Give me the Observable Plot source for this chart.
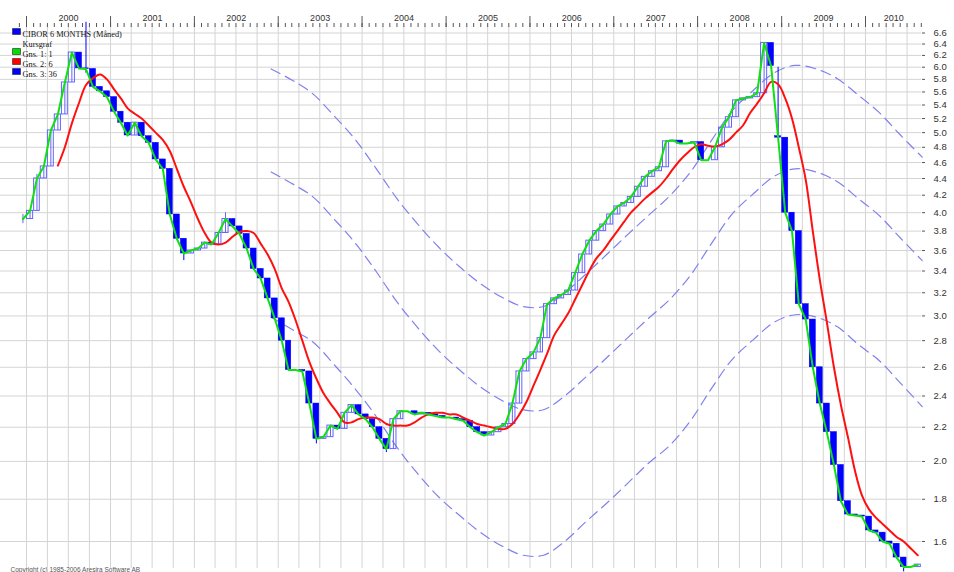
<!DOCTYPE html>
<html><head><meta charset="utf-8">
<script src="https://cdn.jsdelivr.net/npm/d3@7"></script>
<script src="https://cdn.jsdelivr.net/npm/@observablehq/plot@0.6"></script>
<style>body{margin:0;background:#fff;} #chart svg{display:block;}</style>
</head><body><div id="chart"></div>
<script>
// ---- data ----
const firstMonth = "1999-12-01";
const closeValues = [3.93,
  4.02, 4.40, 4.55, 5.03, 5.26, 5.75, 6.25, 5.98, 5.97, 5.68, 5.61, 5.52,
  5.30, 5.14, 4.96, 5.14, 4.95, 4.86, 4.64, 4.52, 3.98, 3.72, 3.57, 3.60,
  3.62, 3.68, 3.66, 3.78, 3.93, 3.85, 3.77, 3.62, 3.42, 3.33, 3.15, 2.98,
  2.80, 2.58, 2.58, 2.57, 2.35, 2.13, 2.14, 2.21, 2.19, 2.29, 2.34, 2.28,
  2.25, 2.20, 2.13, 2.07, 2.25, 2.30, 2.30, 2.28, 2.29, 2.28, 2.27, 2.26,
  2.26, 2.25, 2.24, 2.20, 2.17, 2.15, 2.17, 2.20, 2.22, 2.35, 2.57, 2.66,
  2.71, 2.82, 3.10, 3.15, 3.18, 3.22, 3.38, 3.56, 3.70, 3.80, 3.87, 3.98,
  4.07, 4.11, 4.18, 4.30, 4.42, 4.49, 4.54, 4.88, 4.89, 4.85, 4.85, 4.87,
  4.63, 4.63, 4.80, 5.07, 5.22, 5.47, 5.50, 5.52, 5.58, 6.42, 6.02, 4.93,
  4.00, 3.80, 3.10, 2.97, 2.60, 2.35, 2.17, 1.98, 1.79, 1.725, 1.72, 1.715,
  1.65, 1.64, 1.60, 1.59, 1.53, 1.49, 1.49, 1.50];
const openValues = [3.93,
  3.93, 4.02, 4.40, 4.55, 5.03, 5.26, 5.75, 6.25, 5.98, 5.97, 5.68, 5.61,
  5.52, 5.30, 5.14, 4.96, 5.14, 4.95, 4.86, 4.64, 4.52, 3.98, 3.72, 3.57,
  3.60, 3.62, 3.68, 3.66, 3.78, 3.93, 3.85, 3.77, 3.62, 3.42, 3.33, 3.15,
  2.98, 2.80, 2.58, 2.58, 2.57, 2.35, 2.13, 2.14, 2.21, 2.19, 2.29, 2.34,
  2.28, 2.25, 2.20, 2.13, 2.07, 2.25, 2.30, 2.30, 2.28, 2.29, 2.28, 2.27,
  2.26, 2.26, 2.25, 2.24, 2.20, 2.17, 2.15, 2.17, 2.20, 2.22, 2.35, 2.57,
  2.66, 2.71, 2.82, 3.10, 3.15, 3.18, 3.22, 3.38, 3.56, 3.70, 3.80, 3.87,
  3.98, 4.07, 4.11, 4.18, 4.30, 4.42, 4.49, 4.54, 4.88, 4.89, 4.85, 4.85,
  4.87, 4.63, 4.63, 4.80, 5.07, 5.22, 5.47, 5.50, 5.52, 5.58, 6.42, 4.95,
  4.93, 4.00, 3.80, 3.10, 2.97, 2.60, 2.35, 2.17, 1.98, 1.79, 1.725, 1.72,
  1.715, 1.65, 1.64, 1.60, 1.59, 1.53, 1.49, 1.49];
const wickMonths = ["1999-12-01","2000-02-01","2000-09-01","2001-11-01","2002-05-01","2003-06-01","2004-04-01","2008-12-01","2010-06-01"];
const wickLow  = [3.88, null, 5.90, 3.50, null, 2.10, 2.05, null, 1.47];
const wickHigh = [3.98, 4.45, 6.80, null, 4.00, null, null, 6.00, null];

const maStart = "2000-05-01";
const ma6Values = [4.56, 4.80, 5.13, 5.43, 5.71, 5.82, 5.88, 5.80,
  5.64, 5.50, 5.35, 5.27, 5.20, 5.10, 5.00, 4.90, 4.75, 4.52, 4.30, 4.12,
  3.93, 3.78, 3.68, 3.66, 3.68, 3.74, 3.79, 3.80, 3.78, 3.67, 3.56, 3.42,
  3.24, 3.12, 2.97, 2.80, 2.64, 2.52, 2.42, 2.35, 2.29, 2.23, 2.23, 2.25,
  2.26, 2.26, 2.25, 2.22, 2.21, 2.21, 2.21, 2.23, 2.26, 2.28, 2.29, 2.29,
  2.28, 2.28, 2.26, 2.24, 2.22, 2.21, 2.20, 2.19, 2.19, 2.22, 2.28, 2.36,
  2.47, 2.58, 2.70, 2.84, 2.93, 3.02, 3.14, 3.27, 3.40, 3.52, 3.60, 3.70,
  3.80, 3.90, 4.00, 4.08, 4.16, 4.23, 4.30, 4.40, 4.52, 4.63, 4.72, 4.80,
  4.84, 4.82, 4.81, 4.84, 4.90, 5.00, 5.10, 5.28, 5.42, 5.58, 5.76, 5.72,
  5.50, 5.20, 4.80, 4.38, 3.80, 3.32, 2.95, 2.60, 2.34, 2.14, 1.95, 1.82,
  1.75, 1.71, 1.68, 1.65, 1.62, 1.60, 1.57, 1.54];

const bandDates = ["2002-12-01","2003-03-01","2003-06-01","2003-09-01","2003-12-01","2004-03-01","2004-06-01","2004-09-01",
  "2004-12-01","2005-03-01","2005-06-01","2005-09-01","2005-12-01","2006-03-01","2006-06-01","2006-09-01",
  "2006-12-01","2007-03-01","2007-06-01","2007-09-01","2007-12-01","2008-03-01","2008-06-01","2008-09-01",
  "2008-12-01","2009-03-01","2009-06-01","2009-09-01","2009-12-01","2010-03-01","2010-06-01","2010-09-05"];
const bandUpper = [5.97, 5.79, 5.57, 5.24, 4.91, 4.53, 4.16, 3.87, 3.63, 3.44, 3.28, 3.16, 3.08, 3.08, 3.20, 3.37,
  3.56, 3.76, 3.97, 4.19, 4.48, 4.89, 5.32, 5.63, 5.91, 6.03, 5.97, 5.81, 5.55, 5.29, 4.97, 4.67];
const bandMiddle = [4.48, 4.34, 4.18, 3.93, 3.68, 3.40, 3.12, 2.90, 2.72, 2.58, 2.46, 2.37, 2.31, 2.31, 2.40, 2.53,
  2.67, 2.82, 2.98, 3.14, 3.36, 3.67, 3.99, 4.22, 4.43, 4.52, 4.48, 4.36, 4.16, 3.97, 3.73, 3.50];
const bandLower = [2.99, 2.89, 2.79, 2.62, 2.45, 2.27, 2.08, 1.93, 1.81, 1.72, 1.64, 1.58, 1.54, 1.54, 1.60, 1.69,
  1.78, 1.88, 1.99, 2.09, 2.24, 2.45, 2.66, 2.81, 2.95, 3.01, 2.99, 2.91, 2.77, 2.65, 2.49, 2.33];

const yTicks = [1.6, 1.8, 2.0, 2.2, 2.4, 2.6, 2.8, 3.0, 3.2, 3.4, 3.6, 3.8, 4.0, 4.2, 4.4, 4.6, 4.8, 5.0, 5.2, 5.4, 5.6, 5.8, 6.0, 6.2, 6.4, 6.6];
const yearLabels = [2000, 2001, 2002, 2003, 2004, 2005, 2006, 2007, 2008, 2009, 2010];
const axisStart = "1999-12-01";
const axisEnd = "2010-09-05";

const legendLabels = ["CIBOR 6 MONTHS (Måned)", "Kursgraf", "Gns. 1: 1", "Gns. 2: 6", "Gns. 3: 36"];
const legendColors = ["#0000ff", null, "#00e000", "#ff0000", "#0000ff"];
const copyrightText = "Copyright (c) 1985-2006 Aresira Software AB";

// ---- build ----
const C_FILL = "#0000ff", C_HOLLOW = "#6464ff", C_GREEN = "#10e010", C_RED = "#ff1010", C_DASH = "#8080ee";
const m0 = new Date(firstMonth);
const wickMap = new Map(wickMonths.map((m, i) => [+new Date(m), i]));
const candles = closeValues.map((c, i) => {
  const start = d3.utcMonth.offset(m0, i);
  const end = d3.utcMonth.offset(m0, i + 1);
  const o = openValues[i];
  const w = wickMap.get(+start);
  let hi = Math.max(o, c), lo = Math.min(o, c);
  if (w !== undefined) {
    if (wickHigh[w] != null) hi = Math.max(hi, wickHigh[w]);
    if (wickLow[w] != null) lo = Math.min(lo, wickLow[w]);
  }
  return {start, end, mid: new Date((+start + +end) / 2), open: o, close: c, high: hi, low: lo, up: c >= o};
});
const ma0 = new Date(maStart);
const ma6 = ma6Values.map((v, i) => {
  const s = d3.utcMonth.offset(ma0, i), e = d3.utcMonth.offset(ma0, i + 1);
  return {date: new Date((+s + +e) / 2), value: v};
});
const bands = bandDates.map((d, i) => ({date: new Date(d), upper: bandUpper[i], middle: bandMiddle[i], lower: bandLower[i]}));

const quarterTicks = d3.utcMonth.every(3).range(new Date("2000-01-01"), new Date("2010-08-01"));
const monthTicks = d3.utcMonth.range(new Date(axisStart), new Date("2010-09-02"));
const yearTicks = d3.utcYear.range(new Date("2000-01-01"), new Date("2010-02-01"));
const endDate = new Date(axisEnd);
const yearLabelDates = yearLabels.map(y => {
  const s = new Date(Date.UTC(y, 0, 1));
  const e = new Date(Math.min(+new Date(Date.UTC(y + 1, 0, 1)), +endDate));
  return new Date((+s + +e) / 2);
});

const rectSymbol = {draw(ctx) { ctx.rect(-4, -3, 8, 6); }};
const legendMarks = [];
legendLabels.forEach((lab, i) => {
  const dy = 5 + i * 10;
  legendMarks.push(Plot.text([lab], {frameAnchor: "top-left", dx: 22, dy, text: d => d, textAnchor: "start",
    fontFamily: "Liberation Serif", fontSize: 8.3, fill: "#111"}));
  if (legendColors[i]) {
    legendMarks.push(Plot.dot([0], {frameAnchor: "top-left", dx: 16, dy, symbol: rectSymbol, fill: legendColors[i], stroke: "#222", strokeWidth: 0.6}));
  }
});

const dashOpts = {stroke: C_DASH, strokeWidth: 1.2, strokeDasharray: "10,6", curve: "catmull-rom"};
const chart = Plot.plot({
  width: 954, height: 572,
  marginLeft: 0, marginRight: 33, marginTop: 26, marginBottom: 4,
  style: {fontFamily: "Liberation Sans, Arial, sans-serif", fontSize: "9px", color: "#333", background: "#fff"},
  x: {type: "utc", domain: [new Date("2000-01-01"), new Date("2010-01-01")], range: [26, 865]},
  y: {type: "log", domain: [1.6, 6.6], range: [541, 32.5]},
  marks: [
    Plot.gridX(quarterTicks, {stroke: "#d4d4d4", strokeOpacity: 1, strokeWidth: 1}),
    Plot.gridY(yTicks, {stroke: "#d4d4d4", strokeOpacity: 1, strokeWidth: 1}),
    Plot.line(bands, {x: "date", y: "upper", ...dashOpts}),
    Plot.line(bands, {x: "date", y: "middle", ...dashOpts}),
    Plot.line(bands, {x: "date", y: "lower", ...dashOpts}),
    Plot.ruleX(candles.filter(d => d.up), {x: "mid", y1: "low", y2: "high", stroke: C_HOLLOW, strokeWidth: 1}),
    Plot.ruleX(candles.filter(d => !d.up), {x: "mid", y1: "low", y2: "high", stroke: C_FILL, strokeWidth: 1}),
    Plot.rect(candles.filter(d => d.up), {x1: "start", x2: "end", y1: "open", y2: "close", fill: "none", stroke: C_HOLLOW, strokeWidth: 1, insetLeft: 0.5, insetRight: 0.5}),
    Plot.rect(candles.filter(d => !d.up), {x1: "start", x2: "end", y1: "open", y2: "close", fill: C_FILL, stroke: C_FILL, strokeWidth: 0.5, insetLeft: 0.5, insetRight: 0.5}),
    Plot.line(ma6, {x: "date", y: "value", stroke: C_RED, strokeWidth: 2, curve: "catmull-rom"}),
    Plot.line(candles, {x: "mid", y: "close", stroke: C_GREEN, strokeWidth: 2}),
    Plot.axisX(monthTicks, {anchor: "top", tickSize: 4, tickFormat: () => "", stroke: "#555"}),
    Plot.axisX(yearTicks, {anchor: "top", tickSize: 11, tickFormat: () => "", stroke: "#555"}),
    Plot.axisX(yearLabelDates, {anchor: "top", tickSize: 0, tickPadding: 6, tickFormat: d3.utcFormat("%Y"), fontSize: 9, fill: "#333"}),
    Plot.axisY(yTicks, {anchor: "right", tickSize: 3, tickPadding: 9, tickFormat: d3.format(".1f"), fontSize: 9.5, fill: "#333", stroke: "#555"}),
    ...legendMarks,
    Plot.text([copyrightText], {frameAnchor: "bottom-left", dx: 10, dy: 3, text: d => d, textAnchor: "start", fontSize: 6.5, fill: "#555"})
  ]
});
document.getElementById("chart").appendChild(chart);
</script>
</body></html>
